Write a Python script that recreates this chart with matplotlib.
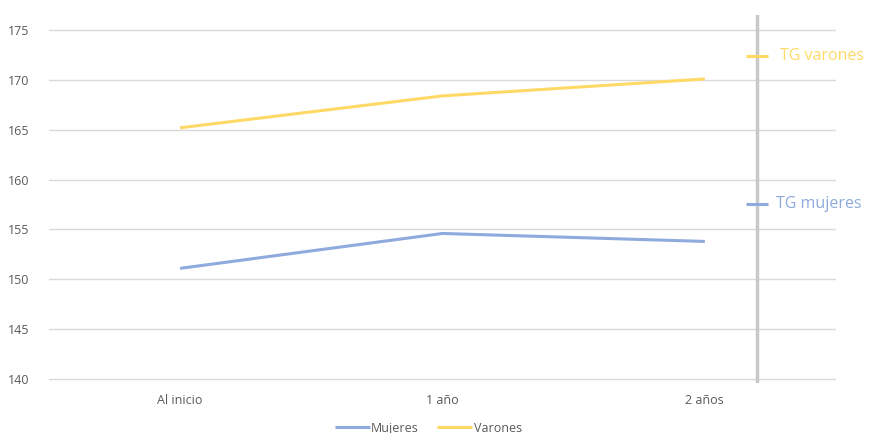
import matplotlib.pyplot as plt

plt.rcParams['font.family'] = ['Open Sans', 'DejaVu Sans']

categorias = ["Al inicio", "1 año", "2 años"]
mujeres = [151.1, 154.6, 153.8]
varones = [165.2, 168.4, 170.1]
tg_mujeres = 157.6
tg_varones = 172.4
tg_x = 2.2
yticks = [140, 145, 150, 155, 160, 165, 170, 175]

c_muj = "#8FAADC"
c_var = "#FFD966"

fig = plt.figure(figsize=(8.74, 4.33), dpi=100)
ax = fig.add_axes([0.056, 0.1155, 0.9005, 0.8495])

x = list(range(len(categorias)))
ax.plot(x, mujeres, color=c_muj, lw=2.2, label="Mujeres", solid_capstyle="butt")
ax.plot(x, varones, color=c_var, lw=2.2, label="Varones", solid_capstyle="butt")

# linea vertical y marcas TG
ax.axvline(tg_x, color="#C9C9C9", lw=2.5)
ax.plot([tg_x], [tg_varones], marker="_", markersize=16, mew=2.2, color=c_var)
ax.plot([tg_x], [tg_mujeres], marker="_", markersize=16, mew=2.2, color=c_muj)
ax.text(tg_x + 0.085, tg_varones, "TG varones", color=c_var, fontsize=11.5, va="center")
ax.text(tg_x + 0.07, tg_mujeres, "TG mujeres", color=c_muj, fontsize=11.5, va="center")

ax.set_xlim(-0.5, 2.5)
ax.set_ylim(139.6, 176.5)
ax.set_yticks(yticks)
ax.set_xticks(x)
ax.set_xticklabels(categorias)
ax.tick_params(length=0, labelsize=9, labelcolor="#595959", pad=8)
ax.tick_params(axis="y", pad=14)
ax.yaxis.grid(True, color="#D9D9D9", lw=1)
ax.set_axisbelow(True)
for s in ax.spines.values():
    s.set_visible(False)

fig.legend(loc="lower center", bbox_to_anchor=(0.49, -0.03), ncol=2, frameon=False,
           fontsize=9, handlelength=2.8, columnspacing=1.5, handletextpad=0.1,
           labelcolor="#595959")

fig.savefig("out.png", dpi=100)
